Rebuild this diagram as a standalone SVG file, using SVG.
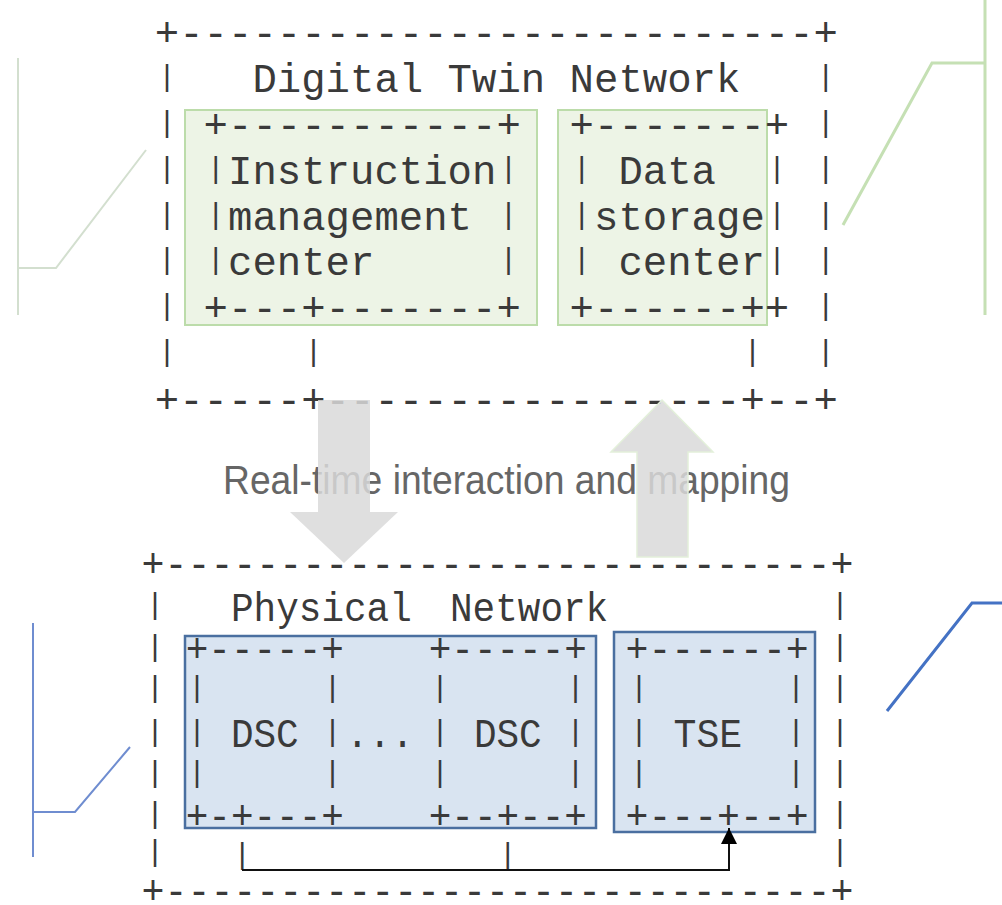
<svg xmlns="http://www.w3.org/2000/svg" width="1002" height="905" viewBox="0 0 1002 905" xml:space="preserve">
<style>
.m{font-family:"Liberation Mono","DejaVu Sans Mono",monospace;font-size:41px;fill:#3a3a3a;white-space:pre}
.p{font-size:30px;text-anchor:middle}
.lbl{font-family:"Liberation Sans",Arial,sans-serif;font-size:41px;fill:#666}
.gbox{fill:#edf4e6;stroke:#bcdcaa;stroke-width:2}
.bbox{fill:#d9e4f1;stroke:#4a6fa0;stroke-width:2.5}
.big{fill:#d9d9d9;fill-opacity:0.85}
.deco{fill:none;stroke-linejoin:miter}
.wire{fill:none;stroke:#111;stroke-width:2}
</style>
<defs>
<marker id="ah" markerUnits="userSpaceOnUse" markerWidth="16" markerHeight="16" refX="16" refY="8" orient="auto">
<path d="M0,0 L16,8 L0,16 z" fill="#000"/>
</marker>
</defs>
<rect width="1002" height="905" fill="#fff"/>

<g id="decorations">
<path class="deco" d="M18,58 V315 M18,268 H56 L146,150" stroke="#d3dfcf" stroke-width="2"/>
<path class="deco" d="M985,0 V315 M985,63 H932 L843,225" stroke="#c5e0b4" stroke-width="3"/>
<path class="deco" d="M33,623 V857 M33,812 H75 L130,747" stroke="#6f8dd0" stroke-width="2"/>
<path class="deco" d="M887,711 L972,603 H1002" stroke="#4472c4" stroke-width="3"/>
</g>

<g id="digital-twin-network">
<text class="m" x="154.8" y="46" textLength="683.2" lengthAdjust="spacingAndGlyphs">+--------------------------+</text>
<text class="m" x="252.4" y="92" textLength="488" lengthAdjust="spacingAndGlyphs">Digital Twin Network</text>
<text class="m p" x="167" y="86.4">|</text><text class="m p" x="825.8" y="86.4">|</text>
<text class="m p" x="167" y="132.4">|</text><text class="m p" x="825.8" y="132.4">|</text>
<text class="m p" x="167" y="178.4">|</text><text class="m p" x="825.8" y="178.4">|</text>
<text class="m p" x="167" y="224.4">|</text><text class="m p" x="825.8" y="224.4">|</text>
<text class="m p" x="167" y="269.4">|</text><text class="m p" x="825.8" y="269.4">|</text>
<text class="m p" x="167" y="315.4">|</text><text class="m p" x="825.8" y="315.4">|</text>
<text class="m p" x="167" y="361.4">|</text><text class="m p" x="825.8" y="361.4">|</text>
<text class="m p" x="313.4" y="361.4">|</text><text class="m p" x="752.6" y="361.4">|</text>
<text class="m" x="154.8" y="413" textLength="683.2" lengthAdjust="spacingAndGlyphs">+-----+-----------------+--+</text>
</g>

<g id="instruction-management-center">
<rect class="gbox" x="185" y="110" width="352" height="215"/>
<text class="m" x="203.6" y="138" textLength="317.2" lengthAdjust="spacingAndGlyphs">+-----------+</text>
<text class="m p" x="215.8" y="178.4">|</text><text class="m p" x="508.6" y="178.4">|</text>
<text class="m" x="228" y="184" textLength="268.4" lengthAdjust="spacingAndGlyphs">Instruction</text>
<text class="m p" x="215.8" y="224.4">|</text><text class="m p" x="508.6" y="224.4">|</text>
<text class="m" x="228" y="230" textLength="244" lengthAdjust="spacingAndGlyphs">management</text>
<text class="m p" x="215.8" y="269.4">|</text><text class="m p" x="508.6" y="269.4">|</text>
<text class="m" x="228" y="275" textLength="146.4" lengthAdjust="spacingAndGlyphs">center</text>
<text class="m" x="203.6" y="321" textLength="317.2" lengthAdjust="spacingAndGlyphs">+---+-------+</text>
</g>

<g id="data-storage-center">
<rect class="gbox" x="558" y="110" width="209" height="215"/>
<text class="m" x="569.6" y="138" textLength="219.6" lengthAdjust="spacingAndGlyphs">+-------+</text>
<text class="m p" x="581.8" y="178.4">|</text><text class="m p" x="777" y="178.4">|</text>
<text class="m" x="618.4" y="184" textLength="97.6" lengthAdjust="spacingAndGlyphs">Data</text>
<text class="m p" x="581.8" y="224.4">|</text><text class="m p" x="777" y="224.4">|</text>
<text class="m" x="594" y="230" textLength="170.8" lengthAdjust="spacingAndGlyphs">storage</text>
<text class="m p" x="581.8" y="269.4">|</text><text class="m p" x="777" y="269.4">|</text>
<text class="m" x="618.4" y="275" textLength="146.4" lengthAdjust="spacingAndGlyphs">center</text>
<text class="m" x="569.6" y="321" textLength="219.6" lengthAdjust="spacingAndGlyphs">+------++</text>
</g>

<g id="physical-network">
<text class="m" x="141.5" y="577" textLength="712" lengthAdjust="spacingAndGlyphs">+-----------------------------+</text>
<text class="m" x="231" y="621" textLength="180.8" lengthAdjust="spacingAndGlyphs">Physical</text>
<text class="m" x="450" y="621" textLength="158.2" lengthAdjust="spacingAndGlyphs">Network</text>
<text class="m p" x="155" y="614.4">|</text><text class="m p" x="840" y="614.4">|</text>
<text class="m p" x="155" y="656.4">|</text><text class="m p" x="840" y="656.4">|</text>
<text class="m p" x="155" y="697.4">|</text><text class="m p" x="840" y="697.4">|</text>
<text class="m p" x="155" y="741.4">|</text><text class="m p" x="840" y="741.4">|</text>
<text class="m p" x="155" y="782.4">|</text><text class="m p" x="840" y="782.4">|</text>
<text class="m p" x="155" y="823.4">|</text><text class="m p" x="840" y="823.4">|</text>
<text class="m p" x="155" y="861.4">|</text><text class="m p" x="840" y="861.4">|</text>
<text class="m" x="141.5" y="904" textLength="712" lengthAdjust="spacingAndGlyphs">+-----------------------------+</text>
</g>

<g id="dsc-nodes">
<rect class="bbox" x="185" y="636" width="411" height="192"/>
<text class="m" x="185.7" y="662" textLength="158.2" lengthAdjust="spacingAndGlyphs">+-----+</text>
<text class="m" x="428.7" y="662" textLength="158.2" lengthAdjust="spacingAndGlyphs">+-----+</text>
<text class="m p" x="197" y="697.4">|</text><text class="m p" x="332.6" y="697.4">|</text><text class="m p" x="440" y="697.4">|</text><text class="m p" x="575.6" y="697.4">|</text>
<text class="m p" x="197" y="741.4">|</text><text class="m p" x="332.6" y="741.4">|</text><text class="m p" x="440" y="741.4">|</text><text class="m p" x="575.6" y="741.4">|</text>
<text class="m" x="230.9" y="747" textLength="67.8" lengthAdjust="spacingAndGlyphs">DSC</text>
<text class="m" x="346" y="747" textLength="67.8" lengthAdjust="spacingAndGlyphs">...</text>
<text class="m" x="473.9" y="747" textLength="67.8" lengthAdjust="spacingAndGlyphs">DSC</text>
<text class="m p" x="197" y="782.4">|</text><text class="m p" x="332.6" y="782.4">|</text><text class="m p" x="440" y="782.4">|</text><text class="m p" x="575.6" y="782.4">|</text>
<text class="m" x="185.7" y="829" textLength="158.2" lengthAdjust="spacingAndGlyphs">+-+---+</text>
<text class="m" x="428.7" y="829" textLength="158.2" lengthAdjust="spacingAndGlyphs">+--+--+</text>
<text class="m p" x="242.2" y="863.5">|</text><text class="m p" x="507.8" y="863.5">|</text>
</g>

<g id="tse-node">
<rect class="bbox" x="614" y="632" width="201" height="200"/>
<text class="m" x="625.5" y="662" textLength="183.2" lengthAdjust="spacingAndGlyphs">+------+</text>
<text class="m p" x="639" y="697.4">|</text><text class="m p" x="796" y="697.4">|</text>
<text class="m p" x="639" y="741.4">|</text><text class="m p" x="796" y="741.4">|</text>
<text class="m" x="673.5" y="747" textLength="68.7" lengthAdjust="spacingAndGlyphs">TSE</text>
<text class="m p" x="639" y="782.4">|</text><text class="m p" x="796" y="782.4">|</text>
<text class="m" x="625.5" y="829" textLength="183.2" lengthAdjust="spacingAndGlyphs">+---+--+</text>
</g>

<g id="connectors">
<text class="lbl" x="223" y="494" textLength="567" lengthAdjust="spacingAndGlyphs">Real-time interaction and mapping</text>
<polygon class="big" points="318,400 370,400 370,512 398,512 344,563 290,512 318,512"/>
<polygon class="big" points="662,400 713,452 688,452 688,557 637,557 637,452 611,452" stroke="#e3f0da" stroke-width="1.5"/>
<polyline class="wire" points="242,870 729,870 729,828" marker-end="url(#ah)"/>
</g>
</svg>
